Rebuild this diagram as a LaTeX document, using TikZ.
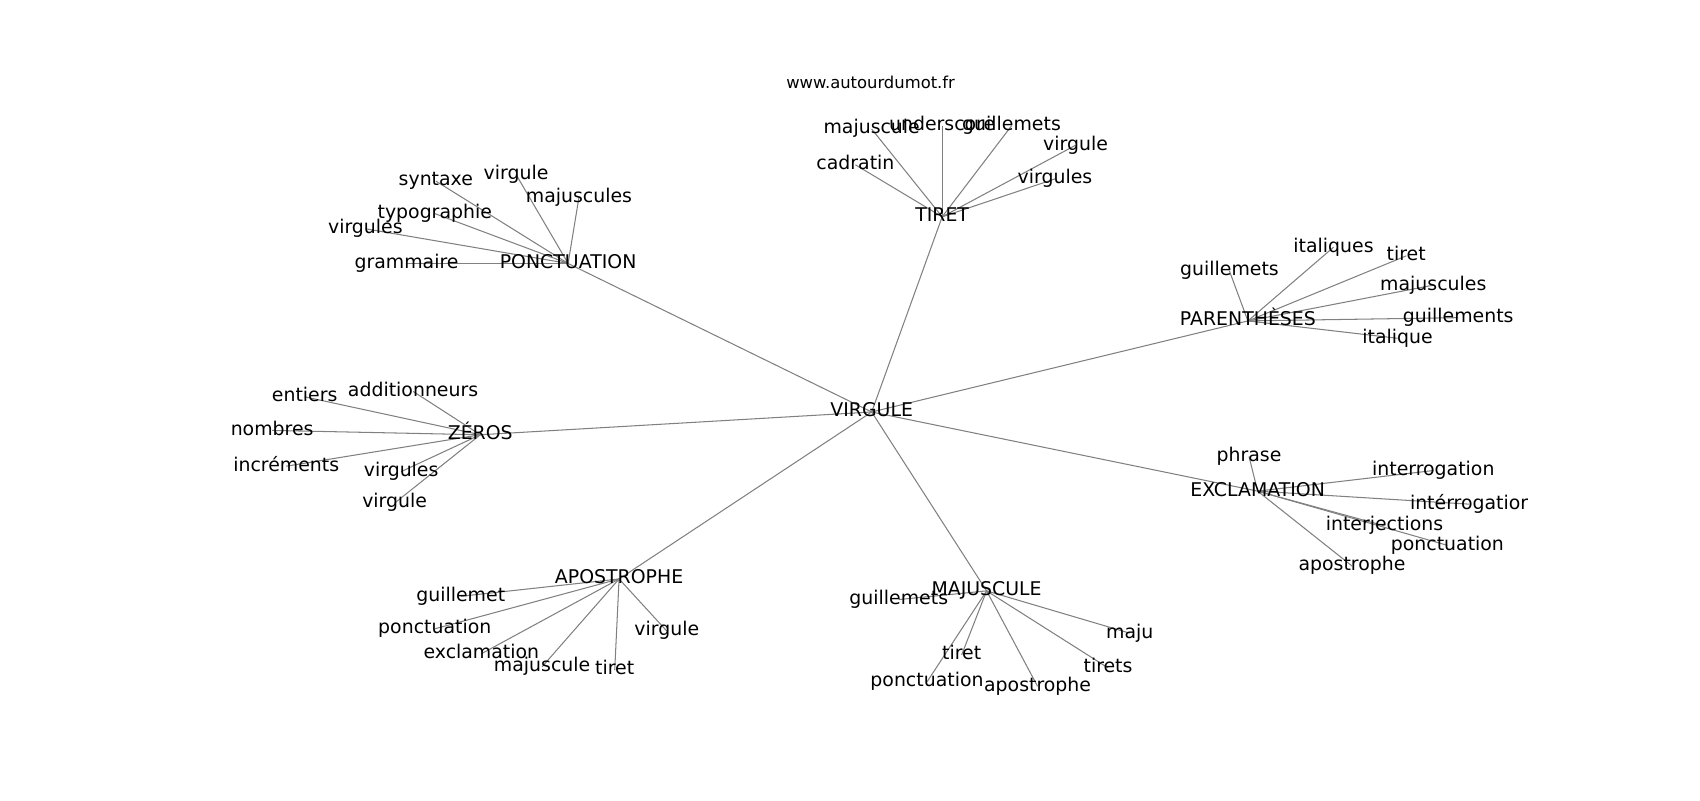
\documentclass[tikz,border=0pt]{standalone}
\usepackage{fontspec}
\setmainfont{DejaVu Sans}
\pgfdeclarelayer{bg}
\pgfsetlayers{bg,main}
\begin{document}
\begin{tikzpicture}[x=0.7805pt,y=-0.7805pt,
  lab/.style={font=\fontsize{13.6}{16}\selectfont, inner sep=0pt, text height=10.3pt, text depth=3.3pt},
  ttl/.style={font=\fontsize{11.8}{14}\selectfont, inner sep=0pt, text height=9pt, text depth=2.8pt},
  edge/.style={draw=black!50, line width=0.75pt}]
\useasboundingbox (0,-2) rectangle (1568,736);
\node[ttl] (title) at (803,76) {www.autourdumot.fr};
% hub
\node[lab] (v) at (804,378) {VIRGULE};
% PONCTUATION
\node[lab] (p) at (524,241) {PONCTUATION};
\node[lab] (p1) at (402,165) {syntaxe};
\node[lab] (p2) at (476,159) {virgule};
\node[lab] (p3) at (534,180) {majuscules};
\node[lab] (p4) at (401,195) {typographie};
\node[lab] (p5) at (337,209) {virgules};
\node[lab] (p6) at (375,241) {grammaire};
% TIRET
\node[lab] (t) at (869,198) {TIRET};
\node[lab] (t1) at (804,117) {majuscule};
\node[lab] (t2) at (869,114) {underscore};
\node[lab] (t3) at (933,114) {guillemets};
\node[lab] (t4) at (992,132) {virgule};
\node[lab] (t5) at (789,150) {cadratin};
\node[lab] (t6) at (973,163) {virgules};
% PARENTHESES
\node[lab] (a) at (1151,294) {PARENTHÈSES};
\node[lab] (a1) at (1134,248) {guillemets};
\node[lab] (a2) at (1230,226) {italiques};
\node[lab] (a3) at (1297,234) {tiret};
\node[lab] (a4) at (1322,261) {majuscules};
\node[lab] (a5) at (1345,291) {guillements};
\node[lab] (a6) at (1289,310) {italique};
% ZEROS
\node[lab] (z) at (443,399) {ZÉROS};
\node[lab] (z1) at (281,364) {entiers};
\node[lab] (z2) at (381,359) {additionneurs};
\node[lab] (z3) at (251,395) {nombres};
\node[lab] (z4) at (264,428) {incréments};
\node[lab] (z5) at (370,433) {virgules};
\node[lab] (z6) at (364,462) {virgule};
% EXCLAMATION
\node[lab] (e) at (1160,451) {EXCLAMATION};
\node[lab] (e1) at (1152,419) {phrase};
\node[lab] (e2) at (1322,432) {interrogation};
\node[lab] (e3) at (1355,463) {intérrogatior};
\node[lab] (e4) at (1277,483) {interjections};
\node[lab] (e5) at (1335,501) {ponctuation};
\node[lab] (e6) at (1247,520) {apostrophe};
% APOSTROPHE
\node[lab] (o) at (571,532) {APOSTROPHE};
\node[lab] (o1) at (425,548) {guillemet};
\node[lab] (o2) at (401,578) {ponctuation};
\node[lab] (o3) at (444,601) {exclamation};
\node[lab] (o4) at (500,613) {majuscule};
\node[lab] (o5) at (567,616) {tiret};
\node[lab] (o6) at (615,580) {virgule};
% MAJUSCULE
\node[lab] (m) at (910,543) {MAJUSCULE};
\node[lab] (m1) at (829,551) {guillemets};
\node[lab] (m2) at (887,602) {tiret};
\node[lab] (m3) at (855,627) {ponctuation};
\node[lab] (m4) at (957,631) {apostrophe};
\node[lab] (m5) at (1022,614) {tirets};
\node[lab] (m6) at (1042,582) {maju};
\begin{pgfonlayer}{bg}
\foreach \h in {p,t,a,z,e,o,m}{
  \draw[edge] (v.center) -- (\h.center);
  \foreach \i in {1,...,6}{\draw[edge] (\h.center) -- (\h\i.center);}
}
\end{pgfonlayer}
\end{tikzpicture}
\end{document}
